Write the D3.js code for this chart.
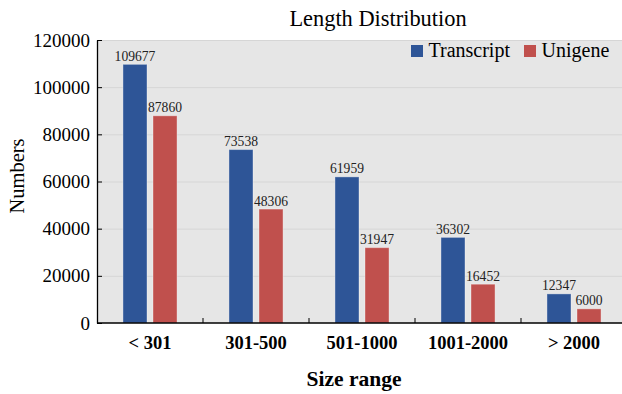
<!DOCTYPE html>
<html>
<head>
<meta charset="utf-8">
<script src="https://cdn.jsdelivr.net/npm/d3@7"></script>
<style>
  html, body { margin: 0; padding: 0; background: #fff; }
  svg { display: block; }
  svg text { font-family: "Liberation Serif", "Times New Roman", serif; }
</style>
</head>
<body>
<svg id="chart" width="622" height="394"></svg>
<script>
// Length distribution of assembled sequences
const categories = ["< 301", "301-500", "501-1000", "1001-2000", "> 2000"];
const seriesNames = ["Transcript", "Unigene"];
const transcript = [109677, 73538, 61959, 36302, 12347];
const unigene = [87860, 48306, 31947, 16452, 6000];
const yTicks = [0, 20000, 40000, 60000, 80000, 100000, 120000];
const colors = ["#2E5597", "#C0504D"];

const svg = d3.select("#chart");
const plotLeft = 97, plotRight = 627, plotTop = 40, plotBottom = 323;

const values = [transcript, unigene];

const x0 = d3.scaleBand().domain(categories).range([plotLeft, plotRight])
  .paddingInner(0.49).paddingOuter(0.245);
const x1 = d3.scaleBand().domain(seriesNames).range([0, x0.bandwidth()])
  .paddingInner(0.2);
const y = d3.scaleLinear().domain([0, 120000]).range([plotBottom, plotTop]);

// plot background
svg.append("rect")
  .attr("x", plotLeft).attr("y", plotTop)
  .attr("width", plotRight - plotLeft).attr("height", plotBottom - plotTop)
  .attr("fill", "#e6e6e6");

// horizontal gridlines
svg.append("g").selectAll("line").data(yTicks.slice(1)).join("line")
  .attr("x1", plotLeft).attr("x2", plotRight)
  .attr("y1", d => y(d) + 0.5).attr("y2", d => y(d) + 0.5)
  .attr("stroke", "#d6d6d6").attr("stroke-width", 1);

// bars
const groups = svg.append("g").selectAll("g").data(categories).join("g")
  .attr("transform", d => `translate(${x0(d)},0)`);

groups.selectAll("rect")
  .data((c, i) => seriesNames.map((s, k) => ({ s, k, v: values[k][i] })))
  .join("rect")
  .attr("x", d => x1(d.s))
  .attr("y", d => y(d.v))
  .attr("width", x1.bandwidth())
  .attr("height", d => plotBottom - y(d.v))
  .attr("fill", d => colors[d.k])
  .attr("stroke", "rgba(255,255,255,0.35)")
  .attr("stroke-width", 1);

groups.selectAll("text")
  .data((c, i) => seriesNames.map((s, k) => ({ s, k, v: values[k][i] })))
  .join("text")
  .attr("x", d => x1(d.s) + x1.bandwidth() / 2)
  .attr("y", d => y(d.v) - 3.5)
  .attr("text-anchor", "middle")
  .attr("font-size", 13.6)
  .attr("fill", "#222")
  .text(d => d.v);

// y axis
const yAxis = d3.axisLeft(y).tickValues(yTicks).tickSizeInner(-5).tickSizeOuter(0)
  .tickPadding(7).tickFormat(d3.format("d"));
const gy = svg.append("g").attr("transform", `translate(${plotLeft},0)`).call(yAxis);
gy.select(".domain").attr("stroke", "#000").attr("stroke-width", 1.3);
gy.selectAll(".tick line").attr("stroke", "#000");
gy.selectAll(".tick text")
  .attr("font-size", 19).attr("fill", "#000");

// x axis with ticks on band boundaries
const gx = svg.append("g");
gx.append("line")
  .attr("x1", plotLeft).attr("x2", plotRight)
  .attr("y1", plotBottom).attr("y2", plotBottom)
  .attr("stroke", "#000").attr("stroke-width", 1.3);
const boundaries = categories.slice(1).map(c => x0(c) - x0.step() * x0.paddingInner() / 2);
gx.selectAll(".bt").data(boundaries).join("line")
  .attr("class", "bt")
  .attr("x1", d => d).attr("x2", d => d)
  .attr("y1", plotBottom).attr("y2", plotBottom - 5)
  .attr("stroke", "#000");
gx.selectAll("text").data(categories).join("text")
  .attr("x", d => x0(d) + x0.bandwidth() / 2)
  .attr("y", 349)
  .attr("text-anchor", "middle")
  .attr("font-size", 18.5).attr("font-weight", "bold")
  .text(d => d);

// titles
svg.append("text")
  .attr("x", 378).attr("y", 26)
  .attr("text-anchor", "middle")
  .attr("font-size", 22.4)
  .text("Length Distribution");

svg.append("text")
  .attr("x", 354).attr("y", 386)
  .attr("text-anchor", "middle")
  .attr("font-size", 21.5).attr("font-weight", "bold")
  .text("Size range");

svg.append("text")
  .attr("transform", "translate(24,176) rotate(-90)")
  .attr("text-anchor", "middle")
  .attr("font-size", 20.5)
  .text("Numbers");

// legend
const legendX = [411, 524];
const lg = svg.append("g").selectAll("g").data(seriesNames).join("g")
  .attr("transform", (d, i) => `translate(${legendX[i]},45)`);
lg.append("rect").attr("width", 12).attr("height", 12)
  .attr("fill", (d, i) => colors[i]);
lg.append("text").attr("x", 17.5).attr("y", 12)
  .attr("font-size", 20).text(d => d);
</script>
</body>
</html>
